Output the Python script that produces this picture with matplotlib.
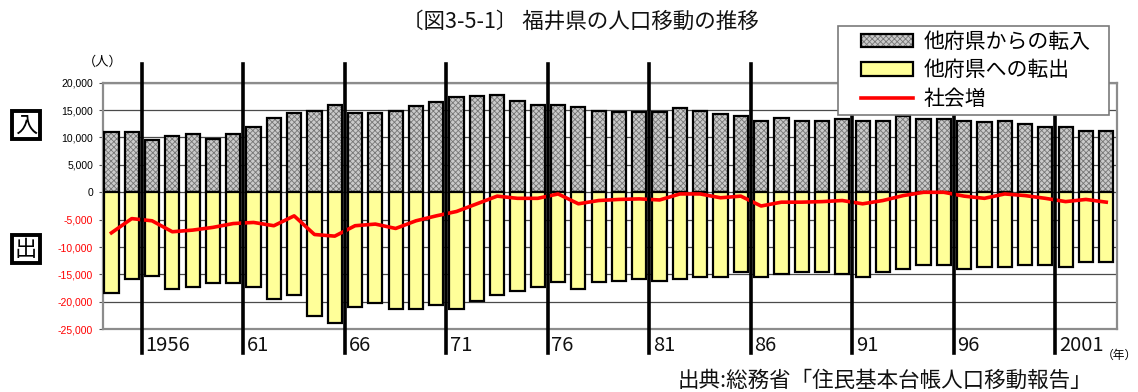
import matplotlib
matplotlib.use("Agg")
import matplotlib.pyplot as plt
from matplotlib.patches import Patch, Rectangle
from matplotlib.lines import Line2D
from matplotlib.legend_handler import HandlerTuple
import numpy as np

plt.rcParams['font.family'] = ['Noto Sans CJK JP', 'DejaVu Sans']
plt.rcParams['hatch.linewidth'] = 0.6

# 年（1954〜2003）
years = list(range(1954, 2004))

# 他府県からの転入（人）
inflow = [11000, 11000, 9500, 10200, 10600, 9800, 10600, 12000, 13500, 14500,
          14900, 16000, 14500, 14500, 14900, 15700, 16400, 17300, 17500, 17800,
          16700, 16000, 16000, 15600, 14800, 14600, 14600, 14600, 15300, 14900,
          14200, 13900, 13100, 13500, 13100, 13100, 13400, 13100, 13100, 13900,
          13400, 13400, 13100, 12800, 13100, 12400, 11900, 11900, 11200, 11200]

# 他府県への転出（人）
outflow = [18400, 15800, 15200, 17700, 17300, 16600, 16600, 17300, 19500, 18800,
           22500, 23900, 21000, 20200, 21300, 21300, 20600, 21300, 19800, 18800,
           18000, 17300, 16400, 17700, 16400, 16200, 15800, 16200, 15800, 15500,
           15500, 14600, 15500, 15000, 14600, 14600, 15000, 15500, 14600, 14000,
           13200, 13200, 14000, 13600, 13600, 13200, 13200, 13600, 12800, 12800]

# 社会増（人）
social = [-7400, -4800, -5200, -7200, -6900, -6400, -5700, -5500, -6100, -4300,
          -7700, -8000, -6100, -5800, -6600, -5200, -4300, -3500, -2100, -700,
          -1100, -1100, -300, -2100, -1500, -1300, -1200, -1400, -300, -300,
          -1000, -700, -2500, -1800, -1800, -1700, -1500, -2100, -1500, -600,
          0, 0, -700, -1100, -300, -600, -1100, -1700, -1300, -1800]

# 年の目盛ラベル
mark_years = [1956, 1961, 1966, 1971, 1976, 1981, 1986, 1991, 1996, 2001]
mark_labels = ["1956", "61", "66", "71", "76", "81", "86", "91", "96", "2001"]

yticks = list(range(-25000, 20001, 5000))

W, H = 1138, 392
fig = plt.figure(figsize=(W / 100, H / 100), dpi=100)
ax = fig.add_axes([102.7 / W, 1 - 329.3 / H, (1117 - 102.7) / W, (329.3 - 82.7) / H])

x = np.arange(len(years))
bw = 0.70
gray_face = '#cacaca'
hatch_col = '#767676'
yellow = '#ffff99'

# 転入（網掛け）
ax.bar(x, inflow, width=bw, color=gray_face, edgecolor=hatch_col, hatch='xxxxxx',
       linewidth=0, zorder=2)
ax.bar(x, inflow, width=bw, fill=False, edgecolor='black', linewidth=1.6, zorder=3)
# 転出
ax.bar(x, [-v for v in outflow], width=bw, color=yellow, edgecolor='black',
       linewidth=1.6, zorder=3)
# 社会増
ax.plot(x, social, color='#ff0000', lw=2.6, zorder=5, solid_joinstyle='round')

ax.set_xlim(-0.43, len(years) - 0.47)
ax.set_ylim(-25000, 20000)
ax.set_yticks(yticks)
ax.set_yticklabels([f"{v:,}" for v in yticks], fontfamily='Liberation Sans', fontsize=7.5)
for lab, v in zip(ax.get_yticklabels(), yticks):
    lab.set_color('#ff0000' if v < 0 else 'black')
ax.tick_params(axis='y', length=3, width=0.8, color='#555555', pad=4)
ax.set_xticks([])
for v in yticks:
    ax.axhline(v, color='#4a4a4a', lw=0.9, zorder=1)
for s in ax.spines.values():
    s.set_color('#8c8c8c')
    s.set_linewidth(1.6)

# 5年ごとの区切り線と年ラベル
tr = ax.get_xaxis_transform()
for yr, lab in zip(mark_years, mark_labels):
    xv = years.index(yr) - 0.5
    ax.add_line(Line2D([xv, xv], [-0.096, 1.076], transform=tr, color='black',
                       lw=2.6, clip_on=False, zorder=6))
    ax.annotate(lab, xy=(xv, -0.066), xycoords=tr, xytext=(2.5, 0),
                textcoords='offset points', ha='left', va='center',
                fontsize=14.5, color='#111111', annotation_clip=False)

# 凡例の枠
fig.patches.append(Rectangle((838 / W, 1 - 115 / H), (1109 - 838) / W, (115 - 26) / H,
                             transform=fig.transFigure, facecolor='white',
                             edgecolor='#7a7a7a', linewidth=1.2, zorder=8))

# 凡例
h_in = (Patch(facecolor=gray_face, edgecolor=hatch_col, hatch='xxxxxx', linewidth=0),
        Patch(fill=False, edgecolor='black', linewidth=1.6))
h_out = Patch(facecolor=yellow, edgecolor='black', linewidth=1.6)
h_soc = Line2D([], [], color='#ff0000', lw=2.6)
leg = fig.legend([h_in, h_out, h_soc], ["他府県からの転入", "他府県への転出", "社会増"],
                 handler_map={tuple: HandlerTuple(ndivide=1)},
                 loc='upper left', bbox_to_anchor=(861 / W, 1 - 31 / H),
                 fontsize=15, frameon=False, borderpad=0, labelspacing=0.3,
                 handlelength=2.5, handleheight=0.6, handletextpad=0.5,
                 borderaxespad=0)
leg.set_zorder(10)

# タイトルと注記
fig.text(580 / W, 1 - 22 / H, "〔図3-5-1〕 福井県の人口移動の推移", ha='center',
         va='center', fontsize=15.5, color='#111111')
fig.text(103 / W, 1 - 62 / H, "（人）", ha='center', va='center', fontsize=9.5)
fig.text(1137 / W, 1 - 355 / H, "（年）", ha='right', va='center', fontsize=8.5)
fig.text(885 / W, 1 - 381 / H, "出典:総務省「住民基本台帳人口移動報告」", ha='center',
         va='center', fontsize=15.5, color='#111111')

box = dict(boxstyle='square,pad=0.12', fc='white', ec='black', lw=2.8)
fig.text(26 / W, 1 - 125 / H, "入", ha='center', va='center', fontsize=16, bbox=box)
fig.text(26 / W, 1 - 249 / H, "出", ha='center', va='center', fontsize=16, bbox=box)

fig.savefig("out.png", dpi=100)
